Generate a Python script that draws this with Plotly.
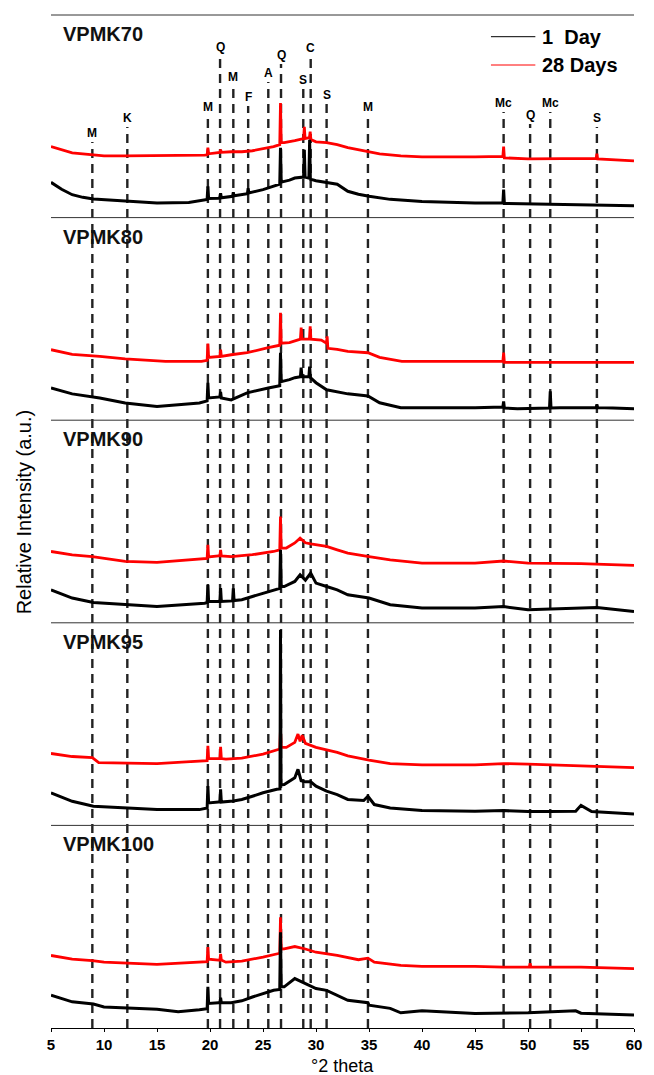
import plotly.graph_objects as go
from plotly.subplots import make_subplots

# ---------------- data ----------------
samples = ["VPMK70", "VPMK80", "VPMK90", "VPMK95", "VPMK100"]
series_names = ["1\u00a0 Day", "28 Days"]

# (2theta, relative intensity within panel 0..100)
vpmk70_28d = [(5,35.1),(6,33.5),(7,32),(8,31.5),(9,31),(10,30.5),(12,30.5),(15,30.5),(18,30.5),(19.5,30.8),
              (19.73,31),(19.8,34.5),(19.87,31.5),(20.8,32),(20.93,32.2),(21.0,33.5),(21.07,32.2),(22,32.5),
              (23,32.5),(24,33),(25,34),(26,35),(26.58,36),(26.65,56.6),(26.72,37),(27,37),(28,38),(28.83,39),
              (28.9,44.8),(28.97,39),(29.38,39.5),(29.45,42.4),(29.52,38.5),(30,37.4),(31,37),(32,36),(33,34.5),
              (34,33.5),(35,32.5),(36,31.5),(38,30.5),(40,30),(45,30),(47.63,30.2),(47.7,35),(47.77,29.5),
              (50,29),(55,29),(56.43,29.2),(56.5,31.5),(56.57,29),(60,28)]
vpmk70_1d = [(5,17.4),(6,14),(7,11.3),(8,10),(9,9.2),(10,8.9),(12,8),(15,7.2),(18,7.5),(19.5,8.5),(19.73,9),
             (19.8,15.4),(19.87,9.4),(20.8,9.5),(20.93,9.8),(21.0,12),(21.07,9.8),(22.13,10.5),(22.2,12.5),
             (22.27,10.8),(23.53,11.8),(23.6,14.5),(23.67,12.2),(25,13.8),(26,15.4),(26.58,16.5),(26.65,34.5),
             (26.72,17.5),(27.5,18.5),(28,19.5),(28.83,20),(28.9,33.5),(28.97,20),(29.33,19.5),(29.4,38.4),
             (29.47,19),(30,18.2),(31,17.5),(32,16.5),(33,13),(34,11.5),(35,10.5),(37,9),(40,8),(45,7.2),
             (47.63,7.2),(47.7,13.8),(47.77,7),(50,6.8),(55,6.4),(60,5.9)]

vpmk80_28d = [(5,34.8),(7,32.5),(9.6,31.5),(12,30.3),(15.8,29),(19.2,29),(19.73,29.5),(19.8,37.8),(19.87,31),
              (20.8,31.5),(20.93,31.5),(21.0,34.8),(21.07,31.5),(22,32.3),(23.5,33.3),(25.5,35.8),(26.58,37),
              (26.65,53),(26.72,38),(27.5,38.3),(28.3,39.5),(28.53,40),(28.6,45.7),(28.67,40),(29.38,40),
              (29.45,46.3),(29.52,40),(30.5,39.5),(30.98,38),(31.05,41.4),(31.12,35.5),(32,35),(33,34),(34.9,33.3),
              (36,31),(38.1,29),(45,29),(47.63,29),(47.7,33.3),(47.77,28.5),(52,28.5),(56.5,28.5),(60,28.5)]
vpmk80_1d = [(5,15.9),(7,13),(9.6,11),(12,8.5),(15,6.8),(19,8.5),(19.73,9.5),(19.8,18.4),(19.87,11),(20.8,11.5),
             (20.93,11.5),(21.0,14),(21.07,11),(22,10),(23.5,13.5),(25.5,15.9),(26.58,17),(26.65,33.3),(26.72,19),
             (27.5,20),(28,21),(28.53,21.5),(28.6,26),(28.67,21.5),(29.33,21.5),(29.4,26.5),(29.47,21),(30,18.5),
             (31,15),(33,13),(34.9,12),(36,8.6),(38,6.2),(45,6.2),(47.63,6.5),(47.7,9.3),(47.77,6),(49,5.7),
             (52.03,6),(52.1,14.2),(52.17,6),(53,6.2),(56.43,6.2),(56.5,7.7),(56.57,6.2),(58,6),(60,5.7)]

vpmk90_28d = [(5,35.2),(7,33.5),(8.9,32.7),(12,30.3),(15,29.8),(19.5,31.5),(19.73,31.8),(19.8,38.5),(19.87,32.5),
              (20.8,33),(20.93,33),(21.0,36),(21.07,33),(22,32.7),(24,33.6),(26,35.2),(26.58,36),(26.65,52.5),
              (26.72,37),(27.2,36.9),(28,39.4),(28.5,41.8),(29,39.5),(29.5,39),(30,38.5),(31,37.7),(32,36),
              (33,34.4),(35,32.7),(37,31.1),(40,29.5),(45,29.5),(47.7,30.5),(50,29.5),(55,29.2),(60,28.3)]
vpmk90_1d = [(5,16.3),(7,12.2),(9,10),(12,8.9),(15,8),(19.5,9.7),(19.73,10),(19.8,18.8),(19.87,10.5),(20.8,10.5),
             (20.93,10.5),(21.0,17.1),(21.07,10.5),(22.13,10.8),(22.2,17),(22.27,11),(23,11.4),(24,13),(25,14.7),
             (26,16.3),(26.58,17),(26.65,36),(26.72,18),(27,17.9),(28,20.4),(28.5,23.7),(29,21),(29.5,24.5),
             (30,19.6),(31,17.9),(32,16.3),(33,13.8),(35,12.2),(37,8.9),(40,7.3),(45,7.3),(47.7,8),(50,6.4),
             (55,7),(56.5,7.5),(60,5.6)]

vpmk95_28d = [(5,35.5),(7,34),(8.9,33.5),(9.5,31),(15,30.5),(19.5,31.8),(19.73,32),(19.8,39.3),(19.87,33),
              (20.8,33),(20.93,33),(21.0,38.8),(21.07,33),(21.5,32.7),(23,33.2),(25,35.2),(26.58,37.7),
              (26.65,47.6),(26.72,38.5),(27.2,38.5),(28,41),(28.3,45.1),(28.5,41.5),(28.7,44.5),(29,40.5),
              (30,38.5),(32,36),(33,34.3),(35,32.2),(37,30.5),(40,29.9),(45,29.9),(47.7,30.5),(50,30.2),
              (55,29.5),(60,28.5)]
vpmk95_1d = [(5,16.1),(7,11.9),(9,9.5),(12,8.6),(15,7.8),(19,7.8),(19.73,8.6),(19.8,19.4),(19.87,11.1),
             (20.8,11.5),(20.93,11.5),(21.0,17.8),(21.07,11.5),(22.2,12),(23,12.8),(24,14.4),(25,16.1),
             (26.3,17.8),(26.6,18),(26.65,96.5),(26.7,20),(27,20.2),(28,23.5),(28.3,27.7),(28.6,22),(29,21.5),
             (29.5,21.5),(30,19.4),(31,16.9),(32,15.2),(33,12.8),(34.5,12.3),(34.9,14.4),(35.5,10.3),(37,8.6),
             (40,7.3),(45,7),(47.7,7.3),(50,6.8),(52,6.8),(54.5,7),(55,9.9),(56,6.8),(60,5.6)]

vpmk100_28d = [(5,35.8),(7,34),(8.9,33.3),(10,32.5),(15,31.4),(19.5,32.5),(19.73,32.8),(19.8,39.9),(19.87,34),
               (20.8,33.5),(20.93,33.5),(21.0,36.6),(21.07,33.5),(21.5,32.5),(23,33),(25,35),(26.58,36.9),
               (26.65,54.6),(26.72,39),(27,39.1),(28,40.2),(29,39),(30,37.4),(32,35.8),(34,33.7),(34.9,34.5),
               (35.5,32.5),(38,30.9),(40,30.4),(45,30.4),(47.7,30),(50.13,30.2),(50.2,32),(50.27,30),(55,30),
               (60,29.3)]
vpmk100_1d = [(5,16.2),(7,12.9),(9,11.8),(10,10.4),(15,9.2),(17,8),(19,9),(19.73,9.5),(19.8,20.3),(19.87,12.1),
              (20.8,12.5),(20.93,12.5),(21.0,15),(21.07,12.5),(22,12.5),(23,13.4),(24,15.3),(25,17),(26,18.6),
              (26.58,19),(26.65,47.2),(26.72,20.3),(27,20.3),(28,24.4),(29,21.9),(30,19.5),(31,18.6),(32,16.2),
              (33,13.7),(34.9,12.5),(35,11.3),(37,9.7),(38,7.5),(40,8.5),(42,8),(45,7.2),(50,7.5),(54.5,8.5),
              (55,7.3),(60,6.4)]

day1_series = [vpmk70_1d, vpmk80_1d, vpmk90_1d, vpmk95_1d, vpmk100_1d]
day28_series = [vpmk70_28d, vpmk80_28d, vpmk90_28d, vpmk95_28d, vpmk100_28d]

peak_positions = [8.9, 12.2, 19.8, 20.95, 22.2, 23.6, 25.5, 26.7, 28.8, 29.5, 31.0, 34.9, 47.7, 50.2, 52.1, 56.5]
peak_labels = ["M", "K", "M", "Q", "M", "F", "A", "Q", "S", "C", "S", "M", "Mc", "Q", "Mc", "S"]
x_ticks = [5, 10, 15, 20, 25, 30, 35, 40, 45, 50, 55, 60]

# ---------------- layout constants ----------------
W, H = 654, 1075
ML, MR, MT, MB = 51, 12, 15, 47
PH = H - MT - MB
PW = W - ML - MR
label_top_px = [133, 118, 107, 47, 77, 97, 73, 55, 80, 48, 95, 107, 103, 115, 103, 118]
FONT = "Arial, Liberation Sans, sans-serif"


def py2paper(py):
    return (H - MB - py) / PH


def px2paper(px):
    return (px - ML) / PW


fig = make_subplots(rows=5, cols=1, shared_xaxes=True, vertical_spacing=0)

for i in range(5):
    d28 = day28_series[i]
    d1 = day1_series[i]
    fig.add_trace(go.Scatter(x=[p[0] for p in d28], y=[p[1] for p in d28], mode="lines",
                             line=dict(color="#ff0000", width=2.8), showlegend=False,
                             name=series_names[1]), row=i + 1, col=1)
    fig.add_trace(go.Scatter(x=[p[0] for p in d1], y=[p[1] for p in d1], mode="lines",
                             line=dict(color="#000000", width=3), showlegend=False,
                             name=series_names[0]), row=i + 1, col=1)

fig.update_yaxes(range=[0, 100], visible=False, fixedrange=True)
fig.update_xaxes(range=[5, 60], showgrid=False, zeroline=False, showticklabels=False, ticks="")
fig.update_xaxes(row=5, col=1, showline=True, linecolor="#000", linewidth=1, ticks="outside",
                 ticklen=3, tickcolor="#000", tickvals=x_ticks, showticklabels=True,
                 tickfont=dict(family=FONT, size=15, color="#000", weight="bold"))

shapes = []
annotations = []

# panel separators
for k in range(5):
    y = 1 - k * 0.2
    shapes.append(dict(type="line", xref="paper", yref="paper", x0=0, x1=1, y0=y, y1=y,
                       line=dict(color="#333", width=1)))

# dashed reference lines and labels
for pos, lab, top in zip(peak_positions, peak_labels, label_top_px):
    shapes.append(dict(type="line", xref="x5", yref="paper", x0=pos, x1=pos,
                       y0=0, y1=py2paper(top + 9), layer="below",
                       line=dict(color="#222", width=2.4, dash="9px,6px")))
    annotations.append(dict(text=lab, xref="x5", yref="paper", x=pos, y=py2paper(top),
                            xanchor="center", yanchor="middle", showarrow=False,
                            font=dict(family=FONT, size=12, color="#000", weight="bold")))

# panel labels
for k, name in enumerate(samples):
    top_px = MT + k * PH / 5
    annotations.append(dict(text=name, xref="paper", yref="paper", x=px2paper(61),
                            y=py2paper(top_px + 19), xanchor="left", yanchor="middle",
                            showarrow=False,
                            font=dict(family=FONT, size=20, color="#111", weight="bold")))

# legend (manual)
leg_y = [36.7, 65]
leg_col = ["#000000", "#ff0000"]
for name, yy, col in zip(series_names, leg_y, leg_col):
    shapes.append(dict(type="line", xref="paper", yref="paper", x0=px2paper(497), x1=px2paper(542),
                       y0=py2paper(yy), y1=py2paper(yy), line=dict(color=col, width=1)))
    annotations.append(dict(text=name, xref="paper", yref="paper", x=px2paper(547), y=py2paper(yy),
                            xanchor="left", yanchor="middle", showarrow=False,
                            font=dict(family=FONT, size=20, color="#000", weight="bold")))

# axis titles
annotations.append(dict(text="Relative Intensity (a.u.)", xref="paper", yref="paper",
                        x=px2paper(24), y=py2paper(512), textangle=-90, xanchor="center",
                        yanchor="middle", showarrow=False,
                        font=dict(family=FONT, size=20, color="#000")))
annotations.append(dict(text="°2 theta", xref="paper", yref="paper", x=px2paper(346), y=py2paper(1066),
                        xanchor="center", yanchor="middle", showarrow=False,
                        font=dict(family=FONT, size=18, color="#000")))

fig.update_layout(width=W, height=H, margin=dict(l=ML, r=MR, t=MT, b=MB),
                  paper_bgcolor="white", plot_bgcolor="white", showlegend=False,
                  shapes=shapes, annotations=annotations)

fig.write_html("out.html")
